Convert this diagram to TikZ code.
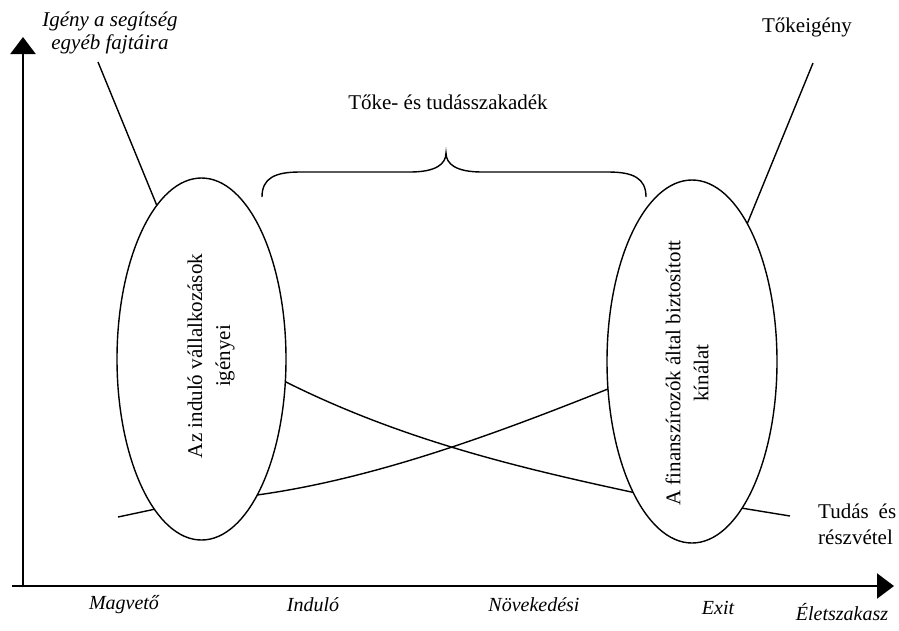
\documentclass[tikz,border=0pt]{standalone}
\usepackage{fontspec}
\setmainfont{Liberation Serif}
\usetikzlibrary{arrows.meta,shapes.geometric}
\begin{document}
\begin{tikzpicture}[x=1pt,y=-1pt,
  axis/.style={line width=2.2pt},
  curve/.style={line width=1.4pt},
  oval/.style={ellipse, draw, line width=1.4pt, fill=white, inner sep=0pt},
  lbl/.style={font=\fontsize{21}{27}\selectfont, inner sep=0pt, align=center},
  ilbl/.style={font=\fontsize{20}{23}\selectfont\itshape, inner sep=0pt, align=center},
  rlbl/.style={font=\fontsize{21}{28}\selectfont, inner sep=0pt, align=center, rotate=90},
  tip/.style={-{Triangle[length=17pt,width=25pt]}}
]
\useasboundingbox (0,0) rectangle (899,630);

% axes
\coordinate (ybot) at (23,587);
\coordinate (ytop) at (23,37);
\coordinate (xbeg) at (12,586);
\coordinate (xend) at (894,586);
\draw[axis,tip] (ybot) -- (ytop);
\draw[axis,tip] (xbeg) -- (xend);

% curve: other help -> knowledge
\coordinate (a0) at (98,62);
\coordinate (a1) at (162,218);
\coordinate (a2) at (280,379);
\coordinate (a3) at (636,493);
\coordinate (a4) at (735,507);
\coordinate (a5) at (790,516);
\draw[curve] (a0) -- (a1);
\draw[curve] (a2) .. controls (400,440) and (520,468) .. (a3);
\draw[curve] (a4) -- (a5);

% curve: capital
\coordinate (b0) at (118,517);
\coordinate (b1) at (165,507);
\coordinate (b2) at (257,495);
\coordinate (b3) at (613,387);
\coordinate (b4) at (743,234);
\coordinate (b5) at (813,63);
\draw[curve] (b0) -- (b1);
\draw[curve] (b2) .. controls (380,478) and (505,430) .. (b3);
\draw[curve] (b4) -- (b5);

% ellipses
\node[oval, minimum width=169pt, minimum height=362pt] (e1) at (201.5,359) {};
\node[oval, minimum width=170pt, minimum height=363pt] (e2) at (692,361.5) {};
\node[rlbl] (t1) at (211,356) {Az induló vállalkozások\\igényei};
\node[rlbl] (t2) at (687,373) {A finanszírozók által biztosított\\kínálat};

% brace
\coordinate (bl) at (262,197);
\coordinate (bt) at (446,153);
\coordinate (br) at (646,197);
\draw[curve] (bl) .. controls (262,178) and (275,172) .. (300,172) -- (410,172)
  .. controls (436,172) and (446,164) .. (bt)
  .. controls (446,164) and (456,172) .. (482,172) -- (608,172)
  .. controls (633,172) and (646,178) .. (br);

% labels
\node[ilbl, font=\fontsize{21}{23}\selectfont\itshape] (lhelp) at (110,33) {Igény a segítség\\egyéb fajtáira};
\node[lbl] (lcap) at (807,27) {Tőkeigény};
\node[lbl] (lgap) at (448,102) {Tőke- és tudásszakadék};
\node[lbl, anchor=west, align=left, font=\fontsize{21}{26}\selectfont] (lknow) at (818,524) {\makebox[78pt][s]{Tudás és}\\részvétel};

\node[ilbl] (s1) at (124,605) {Magvető};
\node[ilbl] (s2) at (313,605) {Induló};
\node[ilbl] (s3) at (534,605) {Növekedési};
\node[ilbl] (s4) at (718,608) {Exit};
\node[ilbl] (s5) at (842,612) {Életszakasz};
\end{tikzpicture}
\end{document}
